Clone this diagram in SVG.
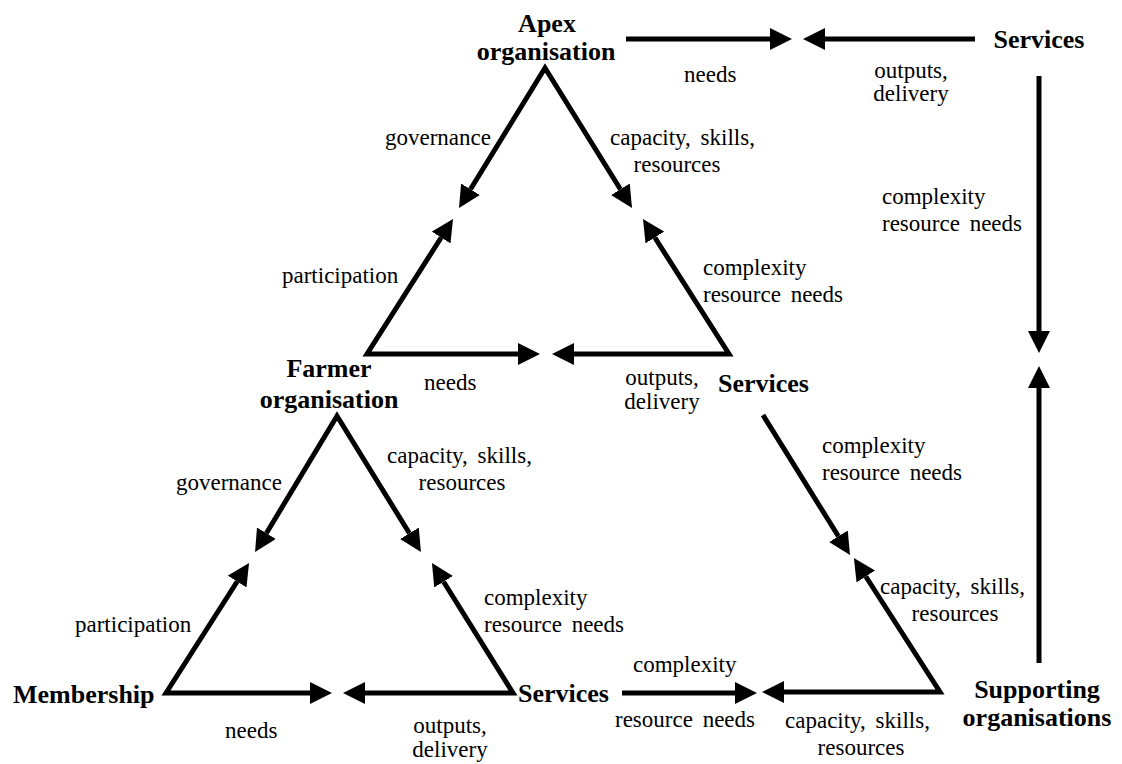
<svg xmlns="http://www.w3.org/2000/svg" width="1122" height="764" viewBox="0 0 1122 764">
  <style>
    text { font-family: "Liberation Serif", "Times New Roman", Times, serif; fill: #000; }
    .node { font-weight: bold; font-size: 26px; }
    .lbl { font-size: 23px; }
    .ws { word-spacing: 4px; }
    .mid { text-anchor: middle; }
    .edge { fill: none; stroke: #000; stroke-width: 5; stroke-linecap: butt; stroke-linejoin: miter; stroke-miterlimit: 10; }
    .one { marker-end: url(#ah); }
    .two { marker-start: url(#ah); marker-end: url(#ah); }
  </style>
  <defs>
    <marker id="ah" markerUnits="userSpaceOnUse" markerWidth="22" markerHeight="22" refX="0" refY="11" orient="auto-start-reverse" viewBox="0 0 22 22">
      <path d="M0,0 L22,11 L0,22 Z" fill="#000"/>
    </marker>
  </defs>
  <rect width="1122" height="764" fill="#fff"/>

  <g id="connectors">
    <path class="edge one" d="M626,39 L770,39"/>
    <path class="edge one" d="M975,39 L825,39"/>
    <path class="edge one" d="M1039,76 L1039,331"/>
    <path class="edge one" d="M1039,663 L1039,388"/>
    <path class="edge two" d="M470.5,189.3 L545,68 L620.4,189.3"/>
    <path class="edge two" d="M441.2,237.5 L367,354 L518,354"/>
    <path class="edge two" d="M654.8,237.5 L729,354 L574,354"/>
    <path class="edge two" d="M266.4,533.2 L337,416 L409.4,533.3"/>
    <path class="edge two" d="M237.2,581.5 L166,693 L310,693"/>
    <path class="edge two" d="M443.6,581.7 L513,693 L365,693"/>
    <path class="edge one" d="M622,693 L735,693"/>
    <path class="edge one" d="M763,415 L838.4,536.3"/>
    <path class="edge two" d="M865.8,576.5 L940,692 L784,692"/>
  </g>

  <g id="edge-labels">
    <text class="lbl" x="684" y="82">needs</text>
    <text class="lbl mid" x="911" y="78">outputs,</text>
    <text class="lbl mid" x="911" y="101">delivery</text>
    <text class="lbl" x="882" y="204">complexity</text>
    <text class="lbl ws" x="882" y="231">resource needs</text>

    <text class="lbl" x="385" y="145">governance</text>
    <text class="lbl ws" x="610" y="145">capacity, skills,</text>
    <text class="lbl mid" x="677" y="172">resources</text>
    <text class="lbl" x="282" y="283">participation</text>
    <text class="lbl" x="703" y="275">complexity</text>
    <text class="lbl ws" x="703" y="302">resource needs</text>
    <text class="lbl" x="424" y="390">needs</text>
    <text class="lbl mid" x="662" y="385">outputs,</text>
    <text class="lbl mid" x="662" y="409">delivery</text>

    <text class="lbl" x="176" y="490">governance</text>
    <text class="lbl ws" x="387" y="463">capacity, skills,</text>
    <text class="lbl mid" x="462" y="490">resources</text>
    <text class="lbl" x="75" y="632">participation</text>
    <text class="lbl" x="484" y="605">complexity</text>
    <text class="lbl ws" x="484" y="632">resource needs</text>
    <text class="lbl" x="225" y="738">needs</text>
    <text class="lbl mid" x="450" y="733">outputs,</text>
    <text class="lbl mid" x="450" y="757">delivery</text>

    <text class="lbl" x="633" y="672">complexity</text>
    <text class="lbl ws" x="615" y="727">resource needs</text>
    <text class="lbl ws" x="785" y="728">capacity, skills,</text>
    <text class="lbl mid" x="861" y="755">resources</text>
    <text class="lbl" x="822" y="453">complexity</text>
    <text class="lbl ws" x="822" y="480">resource needs</text>
    <text class="lbl ws" x="880" y="594">capacity, skills,</text>
    <text class="lbl mid" x="955" y="621">resources</text>
  </g>

  <g id="node-apex">
    <text class="node mid" x="547" y="32">Apex</text>
    <text class="node mid" x="546" y="60">organisation</text>
  </g>
  <g id="node-services-top">
    <text class="node mid" x="1039" y="48">Services</text>
  </g>
  <g id="node-farmer">
    <text class="node mid" x="329" y="377">Farmer</text>
    <text class="node mid" x="329" y="408">organisation</text>
  </g>
  <g id="node-services-mid">
    <text class="node" x="718" y="392">Services</text>
  </g>
  <g id="node-membership">
    <text class="node" x="13" y="703">Membership</text>
  </g>
  <g id="node-services-bottom">
    <text class="node" x="518" y="702">Services</text>
  </g>
  <g id="node-supporting">
    <text class="node mid" x="1037" y="698">Supporting</text>
    <text class="node mid" x="1037" y="726">organisations</text>
  </g>
</svg>
